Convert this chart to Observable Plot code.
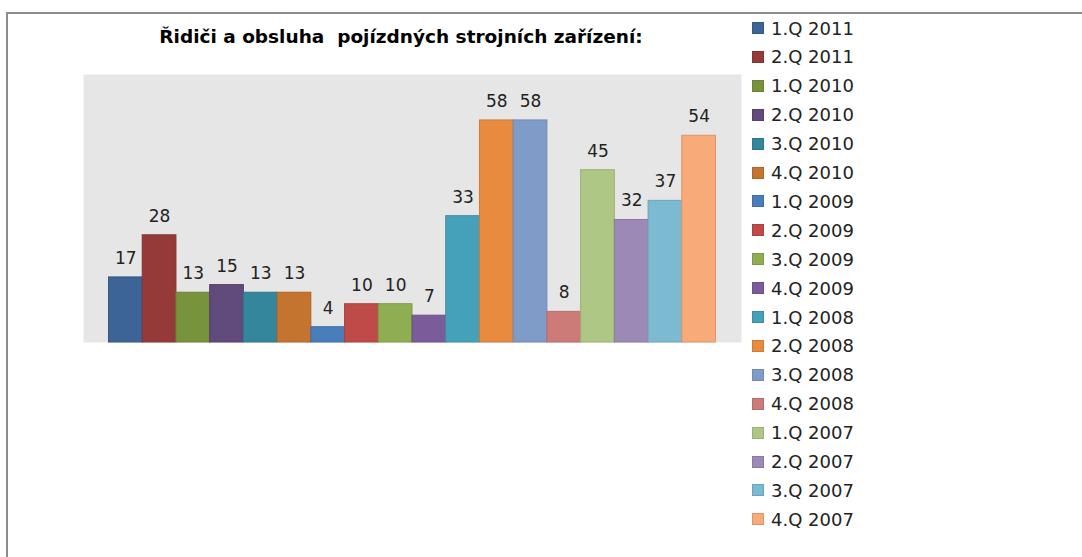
<!DOCTYPE html>
<html>
<head>
<meta charset="utf-8">
<script src="https://cdn.jsdelivr.net/npm/d3@7"></script>
<script src="https://cdn.jsdelivr.net/npm/@observablehq/plot@0.6"></script>
<style>
  html, body { margin: 0; padding: 0; background: #fff; }
  #wrap { position: relative; width: 1082px; height: 557px; overflow: hidden; font-family: "DejaVu Sans", sans-serif; }
  #topline { position: absolute; left: 6px; top: 12px; right: 0; height: 2px; background: #8c8c8c; }
  #leftline { position: absolute; left: 6px; top: 12px; bottom: 0; width: 2px; background: #8c8c8c; }
  #chart { position: absolute; left: 0; top: 0; }
  #title { position: absolute; left: 401px; top: 36px; transform: translate(-50%, -50%); font-weight: bold; font-size: 18.5px; white-space: pre; color: #000; }
  #legend { position: absolute; left: 752px; top: 0; }
  .item { position: absolute; left: 0; height: 22px; display: flex; align-items: center; white-space: nowrap; font-size: 18px; color: #222; transform: translateY(-50%); }
  .sw { width: 12px; height: 12px; margin-right: 7px; box-sizing: border-box; border: 1px solid; }
</style>
</head>
<body>
<div id="wrap">
  <div id="topline"></div>
  <div id="leftline"></div>
  <div id="chart"></div>
  <div id="title"></div>
  <div id="legend"></div>
</div>
<script>
const titleText = "Řidiči a obsluha  pojízdných strojních zařízení:";
const categories = ["1.Q 2011","2.Q 2011","1.Q 2010","2.Q 2010","3.Q 2010","4.Q 2010","1.Q 2009","2.Q 2009","3.Q 2009","4.Q 2009","1.Q 2008","2.Q 2008","3.Q 2008","4.Q 2008","1.Q 2007","2.Q 2007","3.Q 2007","4.Q 2007"];
const values = [17, 28, 13, 15, 13, 13, 4, 10, 10, 7, 33, 58, 58, 8, 45, 32, 37, 54];
const colors = ["#3c6496","#953a38","#77933c","#614a7c","#34869c","#c4742f","#4a7ebb","#be4b48","#8fae52","#7a5c9a","#45a1ba","#e98b3f","#7f9cc8","#cd7b79","#afc785","#9d89b5","#7bbad1","#f8aa78"];

const data = categories.map((c, i) => ({cat: c, value: values[i], color: colors[i], edge: d3.color(colors[i]).darker(0.35).formatHex()}));

document.getElementById("title").textContent = titleText;

const chart = Plot.plot({
  width: 1082,
  height: 557,
  marginTop: 74,
  marginBottom: 215,
  marginLeft: 83,
  marginRight: 341,
  style: {fontFamily: "DejaVu Sans, sans-serif", background: "transparent"},
  x: {domain: categories, paddingInner: 0, paddingOuter: 0.756, round: false, axis: null},
  y: {domain: [0, 70], axis: null},
  marks: [
    Plot.frame({fill: "#e6e6e6", stroke: null}),
    Plot.barY(data, {x: "cat", y: "value", fill: "color", stroke: "edge", strokeWidth: 1, inset: 0}),
    Plot.text(data, {x: "cat", y: "value", text: d => String(d.value), dy: -19, fontSize: 17, fill: "#222"})
  ]
});
document.getElementById("chart").appendChild(chart);

const legend = document.getElementById("legend");
categories.forEach((c, i) => {
  const it = document.createElement("div");
  it.className = "item";
  it.style.top = (28 + i * 28.9) + "px";
  const sw = document.createElement("span");
  sw.className = "sw";
  sw.style.background = colors[i];
  sw.style.borderColor = d3.color(colors[i]).darker(0.35).formatHex();
  const tx = document.createElement("span");
  tx.textContent = c;
  it.appendChild(sw);
  it.appendChild(tx);
  legend.appendChild(it);
});
</script>
</body>
</html>
